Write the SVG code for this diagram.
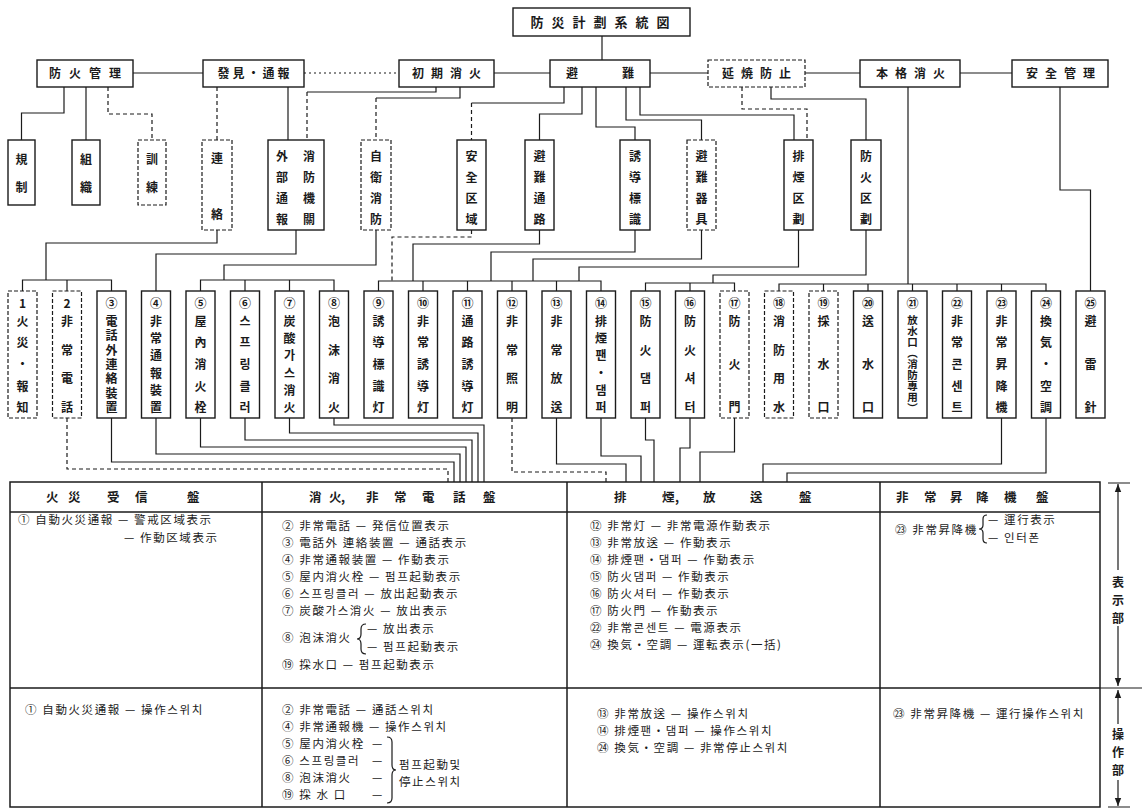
<svg xmlns="http://www.w3.org/2000/svg" width="1146" height="812" viewBox="0 0 1146 812">
<style>
text{font-family:"Noto Sans CJK KR","Noto Sans CJK JP",sans-serif;fill:#1b1b1b}
.nb{fill:#fff;stroke:#1b1b1b;stroke-width:1.4}
.nd{fill:#fff;stroke:#1b1b1b;stroke-width:1.2;stroke-dasharray:4 2}
.ln{fill:none;stroke:#1b1b1b;stroke-width:1.2}
.ld{fill:none;stroke:#1b1b1b;stroke-width:1.2;stroke-dasharray:4 3}
.lo{fill:none;stroke:#1b1b1b;stroke-width:1.2;stroke-dasharray:2 3}
.tl{fill:none;stroke:#1b1b1b;stroke-width:1.5}
.h{font-size:12px;font-weight:700;text-anchor:middle}
.v{font-size:12px;font-weight:700;text-anchor:middle}
.vs{font-size:10.5px;font-weight:700;text-anchor:middle}
.hd{font-size:12.5px;font-weight:700}
.tx{font-size:11.5px;letter-spacing:1.6px}
</style>
<defs>
<marker id="ar" viewBox="0 0 10 10" refX="10" refY="5" markerWidth="7" markerHeight="7" orient="auto-start-reverse"><path d="M0,1L10,5L0,9z" fill="#1b1b1b"/></marker>
</defs>
<rect width="1146" height="812" fill="#fff"/>

<g id="connectors">
<path class="ln" d="M602,36V60"/>
<path class="ln" d="M133,73H203"/>
<path class="lo" d="M304,73H399"/>
<path class="ln" d="M494,73H550"/>
<path class="ln" d="M650,73H708"/>
<path class="ln" d="M805,73H860"/>
<path class="ln" d="M960,73H1012"/>
<path class="ln" d="M64,87V113H21.5V140"/>
<path class="ln" d="M86,87V140"/>
<path class="ld" d="M108,87V114H152V140"/>
<path class="ld" d="M217,87V140"/>
<path class="ln" d="M288,87V140"/>
<path class="ln" d="M436,87V92H307"/><path class="ld" d="M307,92V140"/>
<path class="ln" d="M460,87V98H376"/><path class="ld" d="M376,98V140"/>
<path class="ln" d="M564,87V103H471.5"/><path class="ld" d="M471.5,103V140"/>
<path class="ln" d="M582,87V114H539.5V140"/>
<path class="ln" d="M596,87V127H635V140"/>
<path class="ln" d="M626,87V120H701.5V140"/>
<path class="ln" d="M640,87V115H794V140"/>
<path class="ld" d="M742,87V109H807V140"/>
<path class="ln" d="M771,87V99H866V140"/>
<path class="ln" d="M908,87V284"/>
<path class="ln" d="M1060,87V190H1090.5V291"/>
<path class="ln" d="M217,230V243H46V280"/>
<path class="ln" d="M22.5,291V280H111.5V291M67,280V291"/>
<path class="ln" d="M296,230V254H156V291"/>
<path class="ln" d="M376,230V265H224V280"/>
<path class="ln" d="M200.5,291V280H334V291M245,280V291M289.5,280V291"/>
<path class="ld" d="M471.5,230V237H392V281"/>
<path class="ln" d="M539.5,230V244H413V281"/>
<path class="ln" d="M635,230V252H491V281"/>
<path class="ln" d="M701.5,230V259H533V281"/>
<path class="ln" d="M798.5,230V267H579V281"/>
<path class="ln" d="M378.5,291V281H601V291M423,281V291M467.5,281V291M512,281V291M556.5,281V291"/>
<path class="ln" d="M866,230V275H713V283"/>
<path class="ln" d="M645.5,291V283H734.5V291M690,283V291"/>
<path class="ln" d="M779,291V284H1046V291M823.5,284V291M868,284V291M912.5,284V291M957,284V291M1001.5,284V291"/>
<path class="ld" d="M67,418V469H448V482"/>
<path class="ln" d="M111.5,418V462H454V482"/>
<path class="ln" d="M156,418V454H460V482"/>
<path class="ln" d="M200.5,418V447H466V482"/>
<path class="ln" d="M245,418V440H472V482"/>
<path class="ln" d="M289.5,418V433H478V482"/>
<path class="ln" d="M334,418V425H484V482"/>
<path class="ld" d="M512,418V472H606V482"/>
<path class="ln" d="M556.5,418V464H626V482"/>
<path class="ln" d="M601,418V456H641V482"/>
<path class="ln" d="M645.5,418V440H654V482"/>
<path class="ln" d="M690,418V448H680V482"/>
<path class="ln" d="M734.5,418V452H700V482"/>
<path class="ln" d="M1001.5,418V464H763V482"/>
<path class="ln" d="M1046,418V473H787V482"/>
</g>

<g id="title"><rect class="nb" x="513" y="8" width="177" height="28"/><text class="h" x="604" y="27" style="font-size:13px;letter-spacing:8px">防災計劃系統図</text></g>

<g id="t1"><rect class="nb" x="37" y="60" width="96" height="27"/><text class="h" x="89" y="78" style="letter-spacing:8px">防火管理</text></g>
<g id="t2"><rect class="nb" x="203" y="60" width="101" height="27"/><text class="h" x="255" y="78" style="letter-spacing:3px">發見・通報</text></g>
<g id="t3"><rect class="nb" x="399" y="60" width="95" height="27"/><text class="h" x="450" y="78" style="letter-spacing:7px">初期消火</text></g>
<g id="t4"><rect class="nb" x="550" y="60" width="100" height="27"/><text class="h" x="572" y="78">避</text><text class="h" x="628" y="78">難</text></g>
<g id="t5"><rect class="nd" x="708" y="60" width="97" height="27"/><text class="h" x="760" y="78" style="letter-spacing:7px">延焼防止</text></g>
<g id="t6"><rect class="nb" x="860" y="60" width="100" height="27"/><text class="h" x="914" y="78" style="letter-spacing:7px">本格消火</text></g>
<g id="t7"><rect class="nb" x="1012" y="60" width="96" height="27"/><text class="h" x="1064" y="78" style="letter-spacing:7px">安全管理</text></g>

<g id="s1"><rect class="nb" x="8" y="140" width="27" height="65"/><text class="v" x="21.5 21.5" y="164 192">規制</text></g>
<g id="s2"><rect class="nb" x="72" y="140" width="28" height="65"/><text class="v" x="86 86" y="164 192">組織</text></g>
<g id="s3"><rect class="nd" x="138" y="140" width="28" height="65"/><text class="v" x="152 152" y="164 192">訓練</text></g>
<g id="s4"><rect class="nd" x="202" y="140" width="30" height="90"/><text class="v" x="217 217" y="163 219">連絡</text></g>
<g id="s5"><rect class="nb" x="268" y="140" width="56" height="90"/><text class="v" x="282 282 282 282" y="161 182 203 224">外部通報</text><text class="v" x="309 309 309 309" y="161 182 203 224">消防機關</text></g>
<g id="s6"><rect class="nd" x="361" y="140" width="30" height="90"/><text class="v" x="376 376 376 376" y="161 182 203 224">自衛消防</text></g>
<g id="s7"><rect class="nb" x="457" y="140" width="29" height="90"/><text class="v" x="471.5 471.5 471.5 471.5" y="161 182 203 224">安全区域</text></g>
<g id="s8"><rect class="nb" x="525" y="140" width="29" height="90"/><text class="v" x="539.5 539.5 539.5 539.5" y="161 182 203 224">避難通路</text></g>
<g id="s9"><rect class="nb" x="620" y="140" width="30" height="90"/><text class="v" x="635 635 635 635" y="161 182 203 224">誘導標識</text></g>
<g id="s10"><rect class="nd" x="687" y="140" width="29" height="90"/><text class="v" x="701.5 701.5 701.5 701.5" y="161 182 203 224">避難器具</text></g>
<g id="s11"><rect class="nb" x="784" y="140" width="29" height="90"/><text class="v" x="798.5 798.5 798.5 798.5" y="161 182 203 224">排煙区劃</text></g>
<g id="s12"><rect class="nb" x="851" y="140" width="30" height="90"/><text class="v" x="866 866 866 866" y="161 182 203 224">防火区劃</text></g>

<g id="b1"><rect class="nd" x="8" y="291" width="29" height="127"/><text class="v" x="22.5 22.5 22.5 22.5 22.5 22.5" y="308 326 347 369 391 412">1火災・報知</text></g>
<g id="b2"><rect class="nd" x="52.5" y="291" width="29" height="127"/><text class="v" x="67 67 67 67 67" y="308 326 355 383 412">2非常電話</text></g>
<g id="b3"><rect class="nb" x="97" y="291" width="29" height="127"/><text class="v" x="111.5 111.5 111.5 111.5 111.5 111.5 111.5 111.5" y="308 326 340 355 369 383 398 412">③電話外連絡裝置</text></g>
<g id="b4"><rect class="nb" x="141.5" y="291" width="29" height="127"/><text class="v" x="156 156 156 156 156 156 156" y="308 326 343 360 378 395 412">④非常通報裝置</text></g>
<g id="b5"><rect class="nb" x="186" y="291" width="29" height="127"/><text class="v" x="200.5 200.5 200.5 200.5 200.5 200.5" y="308 326 347 369 391 412">⑤屋內消火栓</text></g>
<g id="b6"><rect class="nb" x="230.5" y="291" width="29" height="127"/><text class="v" x="245 245 245 245 245 245" y="308 326 347 369 391 412">⑥스프링클러</text></g>
<g id="b7"><rect class="nb" x="275" y="291" width="29" height="127"/><text class="v" x="289.5 289.5 289.5 289.5 289.5 289.5 289.5" y="308 326 343 360 378 395 412">⑦炭酸가스消火</text></g>
<g id="b8"><rect class="nb" x="319.5" y="291" width="29" height="127"/><text class="v" x="334 334 334 334 334" y="308 326 355 383 412">⑧泡沫消火</text></g>
<g id="b9"><rect class="nb" x="364" y="291" width="29" height="127"/><text class="v" x="378.5 378.5 378.5 378.5 378.5 378.5" y="308 326 347 369 391 412">⑨誘導標識灯</text></g>
<g id="b10"><rect class="nb" x="408.5" y="291" width="29" height="127"/><text class="v" x="423 423 423 423 423 423" y="308 326 347 369 391 412">⑩非常誘導灯</text></g>
<g id="b11"><rect class="nb" x="453" y="291" width="29" height="127"/><text class="v" x="467.5 467.5 467.5 467.5 467.5 467.5" y="308 326 347 369 391 412">⑪通路誘導灯</text></g>
<g id="b12"><rect class="nb" x="497.5" y="291" width="29" height="127"/><text class="v" x="512 512 512 512 512" y="308 326 355 383 412">⑫非常照明</text></g>
<g id="b13"><rect class="nb" x="542" y="291" width="29" height="127"/><text class="v" x="556.5 556.5 556.5 556.5 556.5" y="308 326 355 383 412">⑬非常放送</text></g>
<g id="b14"><rect class="nb" x="586.5" y="291" width="29" height="127"/><text class="v" x="601 601 601 601 601 601 601" y="308 326 343 360 378 395 412">⑭排煙팬・댐퍼</text></g>
<g id="b15"><rect class="nb" x="631" y="291" width="29" height="127"/><text class="v" x="645.5 645.5 645.5 645.5 645.5" y="308 326 355 383 412">⑮防火댐퍼</text></g>
<g id="b16"><rect class="nb" x="675.5" y="291" width="29" height="127"/><text class="v" x="690 690 690 690 690" y="308 326 355 383 412">⑯防火셔터</text></g>
<g id="b17"><rect class="nd" x="720" y="291" width="29" height="127"/><text class="v" x="734.5 734.5 734.5 734.5" y="308 326 369 412">⑰防火門</text></g>
<g id="b18"><rect class="nd" x="764.5" y="291" width="29" height="127"/><text class="v" x="779 779 779 779 779" y="308 326 355 383 412">⑱消防用水</text></g>
<g id="b19"><rect class="nd" x="809" y="291" width="29" height="127"/><text class="v" x="823.5 823.5 823.5 823.5" y="308 326 369 412">⑲採水口</text></g>
<g id="b20"><rect class="nb" x="853.5" y="291" width="29" height="127"/><text class="v" x="868 868 868 868" y="308 326 369 412">⑳送水口</text></g>
<g id="b21"><rect class="nb" x="898" y="291" width="29" height="127"/><text class="v" x="912.5" y="308">㉑</text><text class="vs" x="912.5 912.5 912.5 912.5 912.5 912.5 912.5 912.5 912.5" y="324 335 346 357 368 379 390 401 412">放水口︵消防專用︶</text></g>
<g id="b22"><rect class="nb" x="942.5" y="291" width="29" height="127"/><text class="v" x="957 957 957 957 957 957" y="308 326 347 369 391 412">㉒非常콘센트</text></g>
<g id="b23"><rect class="nb" x="987" y="291" width="29" height="127"/><text class="v" x="1001.5 1001.5 1001.5 1001.5 1001.5 1001.5" y="308 326 347 369 391 412">㉓非常昇降機</text></g>
<g id="b24"><rect class="nb" x="1031.5" y="291" width="29" height="127"/><text class="v" x="1046 1046 1046 1046 1046 1046" y="308 326 347 369 391 412">㉔換気・空調</text></g>
<g id="b25"><rect class="nb" x="1076" y="291" width="29" height="127"/><text class="v" x="1090.5 1090.5 1090.5 1090.5" y="308 326 369 412">㉕避雷針</text></g>

<g id="table">
<rect class="tl" x="10" y="482" width="1090" height="325"/>
<path class="tl" d="M10,512H1100M10,688H1100M262,482V807M567,482V807M880,482V807"/>
<text class="hd" x="46 68 107 135 187" y="502">火災受信盤</text>
<text class="hd" x="309 329 341 366 394 422 453 483" y="502">消火,非常電話盤</text>
<text class="hd" x="614 662 675 703 750 799" y="502">排煙,放送盤</text>
<text class="hd" x="896 924 950 976 1004 1036" y="502">非常昇降機盤</text>

<text class="tx" x="18" y="524">① 自動火災通報 — 警戒区域表示</text>
<text class="tx" x="124" y="542">— 作動区域表示</text>

<text class="tx" x="282" y="530">② 非常電話 — 発信位置表示</text>
<text class="tx" x="282" y="547">③ 電話外 連絡装置 — 通話表示</text>
<text class="tx" x="282" y="564">④ 非常通報装置 — 作動表示</text>
<text class="tx" x="282" y="581">⑤ 屋内消火栓 — 펌프起動表示</text>
<text class="tx" x="282" y="598">⑥ 스프링클러 — 放出起動表示</text>
<text class="tx" x="282" y="615">⑦ 炭酸가스消火 — 放出表示</text>
<text class="tx" x="282" y="642">⑧ 泡沫消火</text>
<path class="ln" d="M366,624Q361,624 361,629V634Q361,639 357,639Q361,639 361,644V649Q361,654 366,654"/>
<text class="tx" x="367" y="633">— 放出表示</text>
<text class="tx" x="367" y="651">— 펌프起動表示</text>
<text class="tx" x="282" y="669">⑲ 採水口 — 펌프起動表示</text>

<text class="tx" x="590" y="530">⑫ 非常灯 — 非常電源作動表示</text>
<text class="tx" x="590" y="547">⑬ 非常放送 — 作動表示</text>
<text class="tx" x="590" y="564">⑭ 排煙팬・댐퍼 — 作動表示</text>
<text class="tx" x="590" y="581">⑮ 防火댐퍼 — 作動表示</text>
<text class="tx" x="590" y="598">⑯ 防火셔터 — 作動表示</text>
<text class="tx" x="590" y="615">⑰ 防火門 — 作動表示</text>
<text class="tx" x="590" y="632">㉒ 非常콘센트 — 電源表示</text>
<text class="tx" x="590" y="649">㉔ 換気・空調 — 運転表示(一括)</text>

<text class="tx" x="895" y="534">㉓ 非常昇降機</text>
<path class="ln" d="M987,515Q983,515 983,519V525Q983,529 979,529Q983,529 983,533V539Q983,543 987,543"/>
<text class="tx" x="988" y="524">— 運行表示</text>
<text class="tx" x="988" y="542">— 인터폰</text>

<text class="tx" x="25" y="714">① 自動火災通報 — 操作스위치</text>

<text class="tx" x="282" y="714">② 非常電話 — 通話스위치</text>
<text class="tx" x="282" y="731">④ 非常通報機 — 操作스위치</text>
<text class="tx" x="282" y="748">⑤ 屋内消火栓</text>
<text class="tx" x="282" y="765">⑥ 스프링클러</text>
<text class="tx" x="282" y="782">⑧ 泡沫消火</text>
<text class="tx" x="282" y="799">⑲ 採 水 口</text>
<text class="tx" x="372 372 372 372" y="748 765 782 799">————</text>
<path class="ln" d="M387,737Q392,737 392,742V765Q392,770 396,770Q392,770 392,775V798Q392,803 387,803"/>
<text class="tx" x="399" y="769">펌프起動및</text>
<text class="tx" x="399" y="786">停止스위치</text>

<text class="tx" x="597" y="718">⑬ 非常放送 — 操作스위치</text>
<text class="tx" x="597" y="735">⑭ 排煙팬・댐퍼 — 操作스위치</text>
<text class="tx" x="597" y="752">㉔ 換気・空調 — 非常停止스위치</text>

<text class="tx" x="893" y="718">㉓ 非常昇降機 — 運行操作스위치</text>
</g>

<g id="dimension">
<path class="ln" d="M1118,484V686" marker-start="url(#ar)" marker-end="url(#ar)"/>
<path class="ln" d="M1118,690V806" marker-start="url(#ar)" marker-end="url(#ar)"/>
<path class="ln" d="M1108,483H1130M1100,688H1142M1108,807H1130"/>
<rect x="1110" y="570" width="16" height="56" fill="#fff"/>
<text class="v" x="1118 1118 1118" y="587 605 623">表示部</text>
<rect x="1110" y="724" width="16" height="56" fill="#fff"/>
<text class="v" x="1118 1118 1118" y="739 757 775">操作部</text>
</g>
</svg>
